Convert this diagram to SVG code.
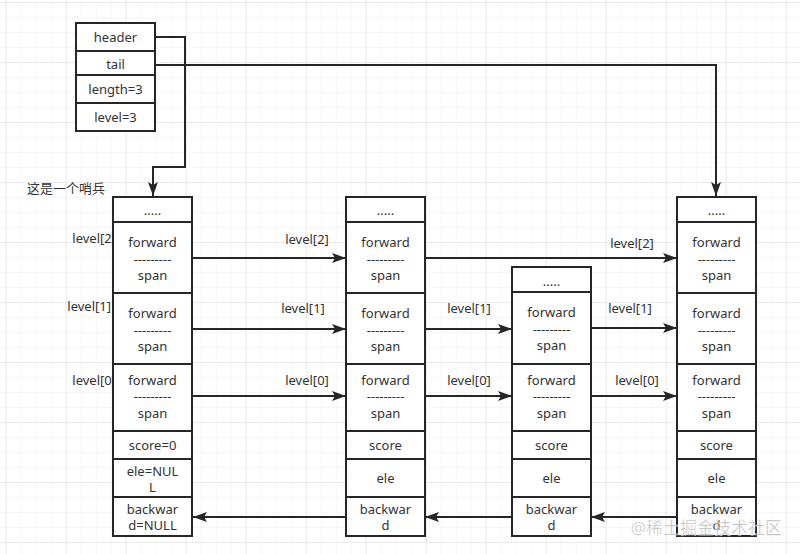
<svg xmlns="http://www.w3.org/2000/svg" width="800" height="554" viewBox="0 0 800 554">
<style>
.bx{fill:#fff;stroke:#262626;stroke-width:2}
.t{font-family:"Noto Sans","Noto Sans CJK SC",sans-serif;font-size:13px;fill:#333;text-anchor:middle;dominant-baseline:central}
.lb{font-family:"Noto Sans","Noto Sans CJK SC",sans-serif;font-size:13px;fill:#333;dominant-baseline:central}
.c{fill:none;stroke:#262626;stroke-width:2}
</style>
<defs>
<pattern id="gmin" x="5.7" y="2" width="15" height="15" patternUnits="userSpaceOnUse">
<path d="M0,0 H15 M0,0 V15" fill="none" stroke="#efefef" stroke-width="1"/>
</pattern>
<pattern id="gmaj" x="5.7" y="2" width="60" height="60" patternUnits="userSpaceOnUse">
<path d="M0,0 H60 M0,0 V60" fill="none" stroke="#dedede" stroke-width="1"/>
</pattern>
<marker id="ar" markerWidth="15" markerHeight="10" refX="14" refY="5" orient="auto" markerUnits="userSpaceOnUse">
<path d="M0,0 L14,5 L0,10 L3,5 Z" fill="#262626"/>
</marker>
</defs>
<rect width="800" height="554" fill="#fff"/>
<rect width="800" height="554" fill="url(#gmin)"/>
<rect width="800" height="554" fill="url(#gmaj)"/>

<g id="labels">
<text class="lb" x="27" y="188">这是一个哨兵</text>
<text class="lb" x="116" y="238" text-anchor="end">level[2]</text>
<text class="lb" x="111" y="306" text-anchor="end">level[1]</text>
<text class="lb" x="116" y="380" text-anchor="end">level[0]</text>
</g>

<g id="connectors">
<path class="c" d="M155,37 H185 V167 H153 V196" marker-end="url(#ar)"/>
<path class="c" d="M155,65 H716 V196" marker-end="url(#ar)"/>
<path class="c" d="M192,258 H346" marker-end="url(#ar)"/>
<path class="c" d="M425,258 H677" marker-end="url(#ar)"/>
<path class="c" d="M192,329 H346" marker-end="url(#ar)"/>
<path class="c" d="M425,329 H512" marker-end="url(#ar)"/>
<path class="c" d="M591,328 H677" marker-end="url(#ar)"/>
<path class="c" d="M192,396 H346" marker-end="url(#ar)"/>
<path class="c" d="M425,396 H512" marker-end="url(#ar)"/>
<path class="c" d="M591,396 H677" marker-end="url(#ar)"/>
<path class="c" d="M677,517 H591" marker-end="url(#ar)"/>
<path class="c" d="M512,517 H425" marker-end="url(#ar)"/>
<path class="c" d="M346,517 H193" marker-end="url(#ar)"/>
<text class="t" x="307" y="239">level[2]</text>
<text class="t" x="632" y="243">level[2]</text>
<text class="t" x="303" y="308">level[1]</text>
<text class="t" x="469" y="308">level[1]</text>
<text class="t" x="630" y="308">level[1]</text>
<text class="t" x="307" y="380">level[0]</text>
<text class="t" x="469" y="380">level[0]</text>
<text class="t" x="637" y="380">level[0]</text>
</g>

<g id="skiplist">
<rect class="bx" x="76" y="23" width="79" height="28"/>
<rect class="bx" x="76" y="51" width="79" height="24"/>
<rect class="bx" x="76" y="75" width="79" height="28"/>
<rect class="bx" x="76" y="103" width="79" height="28"/>
<text class="t" x="115.5" y="37">header</text>
<text class="t" x="115.5" y="64">tail</text>
<text class="t" x="115.5" y="89">length=3</text>
<text class="t" x="115.5" y="117">level=3</text>
</g>

<g id="node-header">
<rect class="bx" x="113" y="197" width="79" height="25"/>
<rect class="bx" x="113" y="222" width="79" height="71"/>
<rect class="bx" x="113" y="293" width="79" height="71"/>
<rect class="bx" x="113" y="364" width="79" height="67"/>
<rect class="bx" x="113" y="431" width="79" height="28"/>
<rect class="bx" x="113" y="459" width="79" height="38"/>
<rect class="bx" x="113" y="497" width="79" height="39"/>
<text class="t" x="152.5" y="210">.....</text>
<text class="t" x="152.5" y="242">forward</text><text class="t" x="152.5" y="259">---------</text><text class="t" x="152.5" y="275">span</text>
<text class="t" x="152.5" y="313">forward</text><text class="t" x="152.5" y="330">---------</text><text class="t" x="152.5" y="346">span</text>
<text class="t" x="152.5" y="380">forward</text><text class="t" x="152.5" y="396">---------</text><text class="t" x="152.5" y="413">span</text>
<text class="t" x="152.5" y="445">score=0</text>
<text class="t" x="152.5" y="471">ele=NUL</text><text class="t" x="152.5" y="487">L</text>
<text class="t" x="152.5" y="509">backwar</text><text class="t" x="152.5" y="525">d=NULL</text>
</g>

<g id="node-1">
<rect class="bx" x="346" y="197" width="79" height="25"/>
<rect class="bx" x="346" y="222" width="79" height="71"/>
<rect class="bx" x="346" y="293" width="79" height="71"/>
<rect class="bx" x="346" y="364" width="79" height="67"/>
<rect class="bx" x="346" y="431" width="79" height="28"/>
<rect class="bx" x="346" y="459" width="79" height="38"/>
<rect class="bx" x="346" y="497" width="79" height="39"/>
<text class="t" x="385.5" y="210">.....</text>
<text class="t" x="385.5" y="242">forward</text><text class="t" x="385.5" y="259">---------</text><text class="t" x="385.5" y="275">span</text>
<text class="t" x="385.5" y="313">forward</text><text class="t" x="385.5" y="330">---------</text><text class="t" x="385.5" y="346">span</text>
<text class="t" x="385.5" y="380">forward</text><text class="t" x="385.5" y="396">---------</text><text class="t" x="385.5" y="413">span</text>
<text class="t" x="385.5" y="445">score</text>
<text class="t" x="385.5" y="478">ele</text>
<text class="t" x="385.5" y="509">backwar</text><text class="t" x="385.5" y="525">d</text>
</g>

<g id="node-2">
<rect class="bx" x="512" y="267" width="79" height="25"/>
<rect class="bx" x="512" y="292" width="79" height="72"/>
<rect class="bx" x="512" y="364" width="79" height="67"/>
<rect class="bx" x="512" y="431" width="79" height="28"/>
<rect class="bx" x="512" y="459" width="79" height="38"/>
<rect class="bx" x="512" y="497" width="79" height="39"/>
<text class="t" x="551.5" y="281">.....</text>
<text class="t" x="551.5" y="312">forward</text><text class="t" x="551.5" y="329">---------</text><text class="t" x="551.5" y="345">span</text>
<text class="t" x="551.5" y="380">forward</text><text class="t" x="551.5" y="396">---------</text><text class="t" x="551.5" y="413">span</text>
<text class="t" x="551.5" y="445">score</text>
<text class="t" x="551.5" y="478">ele</text>
<text class="t" x="551.5" y="509">backwar</text><text class="t" x="551.5" y="525">d</text>
</g>

<g id="node-3">
<rect class="bx" x="677" y="197" width="79" height="25"/>
<rect class="bx" x="677" y="222" width="79" height="71"/>
<rect class="bx" x="677" y="293" width="79" height="71"/>
<rect class="bx" x="677" y="364" width="79" height="67"/>
<rect class="bx" x="677" y="431" width="79" height="28"/>
<rect class="bx" x="677" y="459" width="79" height="38"/>
<rect class="bx" x="677" y="497" width="79" height="39"/>
<text class="t" x="716.5" y="210">.....</text>
<text class="t" x="716.5" y="242">forward</text><text class="t" x="716.5" y="259">---------</text><text class="t" x="716.5" y="275">span</text>
<text class="t" x="716.5" y="313">forward</text><text class="t" x="716.5" y="330">---------</text><text class="t" x="716.5" y="346">span</text>
<text class="t" x="716.5" y="380">forward</text><text class="t" x="716.5" y="396">---------</text><text class="t" x="716.5" y="413">span</text>
<text class="t" x="716.5" y="445">score</text>
<text class="t" x="716.5" y="478">ele</text>
<text class="t" x="716.5" y="509">backwar</text><text class="t" x="716.5" y="525">d</text>
</g>

<text x="782" y="527" text-anchor="end" dominant-baseline="central" font-family="Noto Sans, Noto Sans CJK SC, sans-serif" font-size="17" fill="#a8a8a8" fill-opacity="0.75" stroke="#fff" stroke-opacity="0.6" stroke-width="0.6">@稀土掘金技术社区</text>
</svg>
